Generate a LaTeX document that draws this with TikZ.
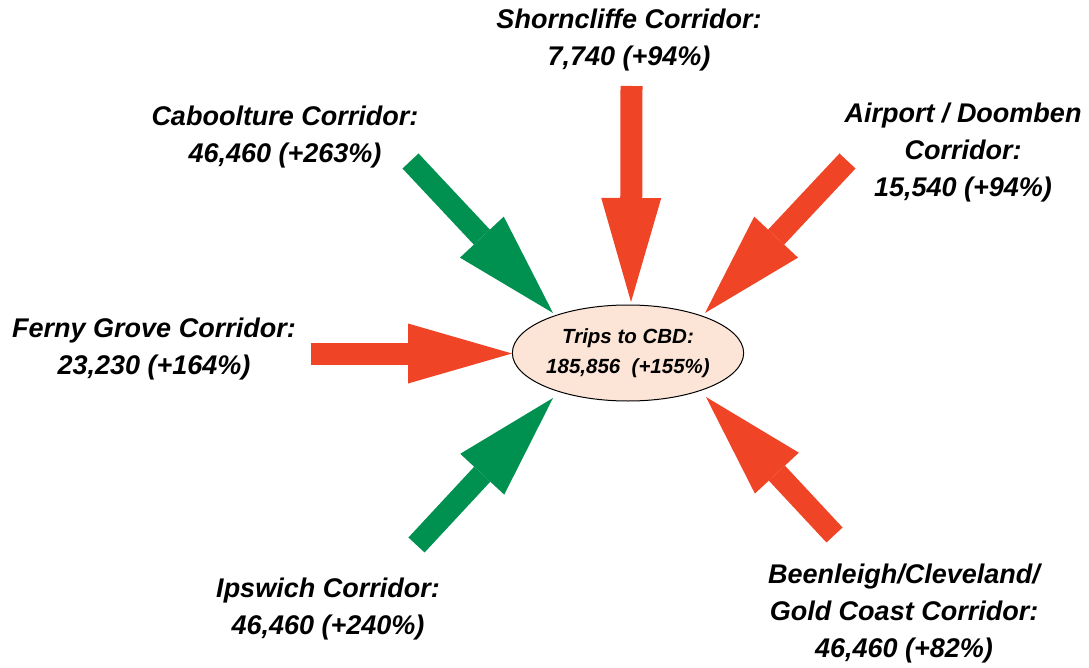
\documentclass[tikz,border=0pt]{standalone}
\usepackage{fontspec}
\setmainfont{Liberation Sans}
\usetikzlibrary{arrows.meta,shapes.geometric}
\definecolor{arrowred}{RGB}{239,68,38}
\definecolor{arrowgreen}{RGB}{0,145,80}
\definecolor{cbdfill}{RGB}{252,229,215}
\tikzset{
  corridor/.style={font=\fontsize{27}{37}\selectfont\bfseries\itshape, align=center, inner sep=0pt},
  flow/.style={line width=22pt, line cap=butt,
    -{Triangle[length=104pt,width=60pt,line width=0pt]}},
  redflow/.style={flow, draw=arrowred, fill=arrowred},
  greenflow/.style={flow, draw=arrowgreen, fill=arrowgreen},
}
\begin{document}
\begin{tikzpicture}[x=1pt,y=-1pt]
\useasboundingbox (0,0) rectangle (1089,668);

% central destination
\node[ellipse, draw=black, line width=1pt, fill=cbdfill,
      minimum width=226pt, minimum height=96pt, inner sep=0pt,
      font=\fontsize{20.5}{30}\selectfont\bfseries\itshape, align=center]
  (cbd) at (628,353) {Trips to CBD:\\185,856 \ (+155\%)};

% corridor labels
\node[corridor] (shorn) at (629,40) {Shorncliffe Corridor:\\7,740 (+94\%)};
\node[corridor] (cabo)  at (285,137) {Caboolture Corridor:\\46,460 (+263\%)};
\node[corridor] (airp)  at (963,153) {Airport / Doomben\\Corridor:\\15,540 (+94\%)};
\node[corridor] (ferny) at (154,349) {Ferny Grove Corridor:\\23,230 (+164\%)};
\node[corridor] (ipsw)  at (328,609) {Ipswich Corridor:\\46,460 (+240\%)};
\node[corridor] (been)  at (904,614) {Beenleigh/Cleveland/\\Gold Coast Corridor:\\46,460 (+82\%)};

% arrow tails
\coordinate (shornT) at (631.5,86);
\coordinate (caboT)  at (410.5,161);
\coordinate (airpT)  at (847.5,161);
\coordinate (fernyT) at (311,353.5);
\coordinate (ipswT)  at (416.5,545);
\coordinate (beenT)  at (834.5,535);

% arrow tips at the ellipse
\coordinate (shornH) at (631,302);
\coordinate (caboH)  at (553,313);
\coordinate (airpH)  at (705,313);
\coordinate (fernyH) at (512,353.5);
\coordinate (ipswH)  at (553,398);
\coordinate (beenH)  at (706,397);

\draw[redflow]   (shornT) -- (shornH);
\draw[greenflow] (caboT)  -- (caboH);
\draw[redflow]   (airpT)  -- (airpH);
\draw[redflow]   (fernyT) -- (fernyH);
\draw[greenflow] (ipswT)  -- (ipswH);
\draw[redflow]   (beenT)  -- (beenH);
\end{tikzpicture}
\end{document}
